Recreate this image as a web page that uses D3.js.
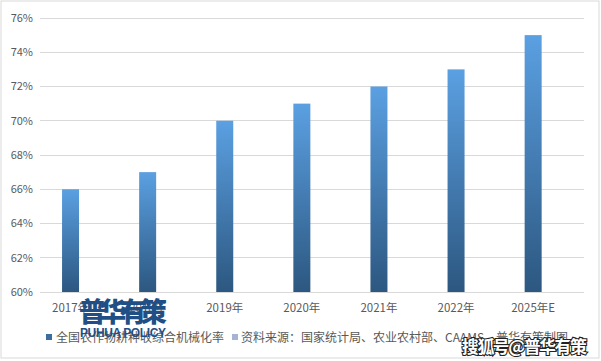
<!DOCTYPE html>
<html><head><meta charset="utf-8">
<script src="https://cdn.jsdelivr.net/npm/d3@7/dist/d3.min.js"></script>
<style>body{margin:0;background:#fff}svg{display:block}</style>
</head><body>
<svg id="c" width="601" height="361"></svg>
<script>
const categories = ["2017年","2018年","2019年","2020年","2021年","2022年","2025年E"];
const values = [66, 67, 70, 71, 72, 73, 75];
const yTicks = [60, 62, 64, 66, 68, 70, 72, 74, 76];
const seriesName = "全国农作物耕种收综合机械化率";
const sourceText = "资料来源：国家统计局、农业农村部、CAAMS、普华有策制图";

const svg = d3.select("#c");
const font = "'Microsoft YaHei','Noto Sans CJK SC',sans-serif";

svg.append("rect").attr("x",1).attr("y",1).attr("width",598).attr("height",357)
  .attr("fill","#fff").attr("stroke","#d9d9d9");

const defs = svg.append("defs");
const g = defs.append("linearGradient").attr("id","bg").attr("x1",0).attr("y1",0).attr("x2",0).attr("y2",1);
g.append("stop").attr("offset","0%").attr("stop-color","#5ba0e2");
g.append("stop").attr("offset","100%").attr("stop-color","#2c5780");

const y = d3.scaleLinear().domain([60,76]).range([292,18]);
const x = d3.scaleBand().domain(categories).range([32,571.7]).paddingInner(0.78).paddingOuter(0.39);

// gridlines
svg.append("g").selectAll("line").data(yTicks).join("line")
  .attr("x1",40).attr("x2",584).attr("y1",d=>y(d)).attr("y2",d=>y(d))
  .attr("stroke","#d9d9d9").attr("stroke-width",1).attr("shape-rendering","crispEdges");

// y labels
svg.append("g").selectAll("text").data(yTicks).join("text")
  .attr("x",33).attr("y",d=>y(d)).attr("dy","0.35em").attr("text-anchor","end")
  .attr("font-family",font).attr("font-size",11).attr("fill","#595959")
  .text(d=>d+"%");

// bars
const bw = 17;
svg.append("g").selectAll("rect").data(values).join("rect")
  .attr("x",(d,i)=>x(categories[i])+x.bandwidth()/2-bw/2)
  .attr("width",bw)
  .attr("y",d=>y(d)).attr("height",d=>y(60)-y(d))
  .attr("fill","url(#bg)");

// x labels
svg.append("g").selectAll("text").data(categories).join("text")
  .attr("x",d=>x(d)+x.bandwidth()/2).attr("y",312).attr("text-anchor","middle")
  .attr("font-family",font).attr("font-size",11.5).attr("fill","#595959")
  .text(d=>d);

// legend
svg.append("rect").attr("x",46).attr("y",334).attr("width",6).attr("height",6).attr("fill","#3b6e9e");
svg.append("text").attr("x",56).attr("y",342).attr("font-family",font).attr("font-size",12)
  .attr("fill","#595959").text(seriesName);
svg.append("rect").attr("x",232).attr("y",334).attr("width",6).attr("height",6).attr("fill","#a5b4d4");
svg.append("text").attr("x",241).attr("y",342).attr("font-family",font).attr("font-size",12)
  .attr("fill","#595959").text(sourceText);

// watermarks
svg.append("text").attr("x",79).attr("y",322).attr("font-family",font).attr("font-size",27)
  .attr("font-weight","900").attr("fill","#1f4f85").attr("textLength",88).text("普华有策");
svg.append("text").attr("x",80).attr("y",337).attr("font-family","'Liberation Sans',Arial,sans-serif").attr("font-size",12)
  .attr("font-weight","bold").attr("fill","#1f4f85").attr("textLength",86).text("PUHUA POLICY");
svg.append("text").attr("x",462).attr("y",353).attr("font-family",font).attr("font-size",17)
  .attr("font-weight","bold").attr("fill","#fff").attr("stroke","#222").attr("stroke-width",2.2)
  .attr("paint-order","stroke").attr("textLength",125).text("搜狐号@普华有策");
</script>
</body></html>
